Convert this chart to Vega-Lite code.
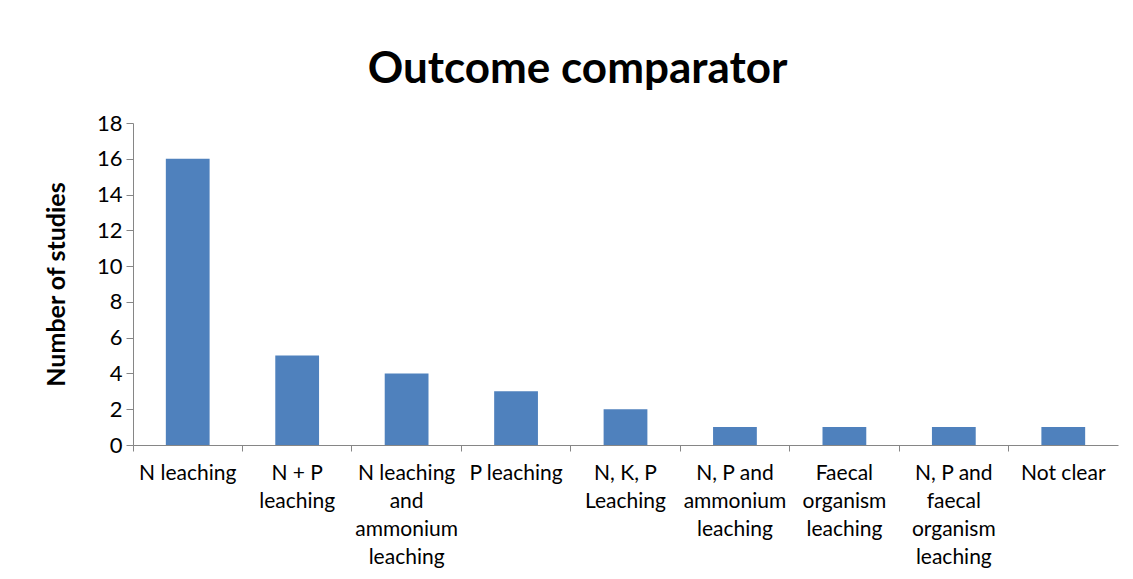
{
  "$schema": "https://vega.github.io/schema/vega-lite/v6.json",
  "autosize": "none",
  "width": 985,
  "height": 322,
  "padding": {"left": 133, "top": 123, "right": 15, "bottom": 134},
  "background": "white",
  "title": {
    "text": "Outcome comparator",
    "font": "Lato",
    "fontSize": 44,
    "fontWeight": "bold",
    "color": "black",
    "anchor": "middle",
    "dx": -48,
    "offset": 20
  },
  "data": {
    "values": [
      {"outcome": "N leaching", "studies": 16},
      {"outcome": "N + P|leaching", "studies": 5},
      {"outcome": "N leaching|and|ammonium|leaching", "studies": 4},
      {"outcome": "P leaching", "studies": 3},
      {"outcome": "N, K, P|Leaching", "studies": 2},
      {"outcome": "N, P and|ammonium|leaching", "studies": 1},
      {"outcome": "Faecal|organism|leaching", "studies": 1},
      {"outcome": "N, P and|faecal|organism|leaching", "studies": 1},
      {"outcome": "Not clear", "studies": 1}
    ]
  },
  "mark": {"type": "bar", "color": "#4F81BD", "width": {"band": 0.4}},
  "encoding": {
    "x": {
      "field": "outcome",
      "type": "nominal",
      "sort": null,
      "scale": {"paddingInner": 0, "paddingOuter": 0},
      "axis": {
        "title": null,
        "labelAngle": 0,
        "labelExpr": "split(datum.value, '|')",
        "labelFont": "Lato",
        "labelFontSize": 21,
        "labelColor": "black",
        "labelLineHeight": 28,
        "labelPadding": 11,
        "labelBaseline": "top",
        "bandPosition": 0,
        "tickSize": 6,
        "tickColor": "#868686",
        "domainColor": "#868686",
        "labelLimit": 0,
        "grid": false
      }
    },
    "y": {
      "field": "studies",
      "type": "quantitative",
      "scale": {"domain": [0, 18]},
      "axis": {
        "title": "Number of studies",
        "titleFont": "Lato",
        "titleFontSize": 25,
        "titleFontWeight": "bold",
        "titleColor": "black",
        "titlePadding": 27,
        "values": [0, 2, 4, 6, 8, 10, 12, 14, 16, 18],
        "labelFont": "Lato",
        "labelFontSize": 22,
        "labelColor": "black",
        "labelPadding": 4,
        "tickSize": 7,
        "tickColor": "#868686",
        "domainColor": "#868686",
        "grid": false
      }
    }
  },
  "config": {"view": {"stroke": null}}
}
